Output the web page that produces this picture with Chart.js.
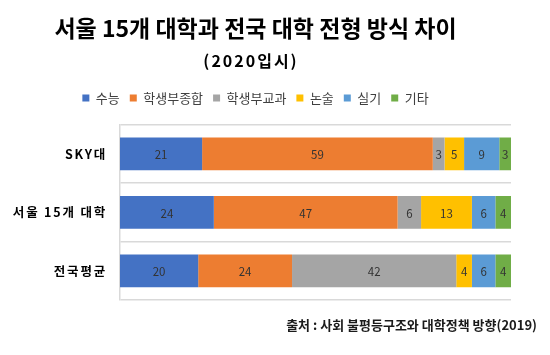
<!DOCTYPE html>
<html><head><meta charset="utf-8">
<script src="https://cdn.jsdelivr.net/npm/chart.js@4/dist/chart.umd.min.js"></script>
<style>html,body{margin:0;padding:0;background:#fff;} #wrap{width:550px;height:355px;position:relative;}</style>
</head><body><div id="wrap"><canvas id="c"></canvas></div>
<script>
const categories = ['SKY대', '서울 15개 대학', '전국평균'];
const seriesNames = ['수능', '학생부종합', '학생부교과', '논술', '실기', '기타'];
const suneung = [21, 24, 20];
const hakjong = [59, 47, 24];
const gyogwa = [3, 6, 42];
const nonsul = [5, 13, 4];
const silgi = [9, 6, 6];
const gita = [3, 4, 4];
const titleText = '서울 15개 대학과 전국 대학 전형 방식 차이';
const subtitleText = '(2020입시)';
const sourceText = '출처 : 사회 불평등구조와 대학정책 방향(2019)';

const colors = ['#4472C4', '#ED7D31', '#A5A5A5', '#FFC000', '#5B9BD5', '#70AD47'];
const seriesValues = [suneung, hakjong, gyogwa, nonsul, silgi, gita];
const FONT = "'Noto Sans CJK KR', 'Noto Sans', sans-serif";

const labelPlugin = {
  id: 'segLabels',
  afterDatasetsDraw(chart) {
    const ctx = chart.ctx;
    ctx.save();
    ctx.font = '11.5px ' + FONT;
    ctx.fillStyle = '#333333';
    ctx.textAlign = 'center';
    ctx.textBaseline = 'middle';
    chart.data.datasets.forEach((ds, i) => {
      const meta = chart.getDatasetMeta(i);
      meta.data.forEach((el, j) => {
        const p = el.getProps(['x', 'base', 'y'], true);
        ctx.fillText(String(ds.data[j]), (p.x + p.base) / 2, p.y + 1);
      });
    });
    ctx.restore();
    ctx.letterSpacing = '1.8px';
  },
  afterDraw(chart) {
    const ctx = chart.ctx;
    ctx.letterSpacing = '0px';
    ctx.save();
    ctx.fillStyle = '#000';
    ctx.textBaseline = 'middle';
    ctx.textAlign = 'center';
    ctx.font = 'bold 16px ' + FONT;
    ctx.letterSpacing = '2px';
    ctx.fillText(subtitleText, 251, 61);
    ctx.letterSpacing = '0px';
    ctx.textAlign = 'right';
    ctx.font = 'bold 13px ' + FONT;
    ctx.fillStyle = '#1a1a1a';
    ctx.fillText(sourceText, 537, 325);
    ctx.restore();
  }
};

new Chart(document.getElementById('c'), {
  type: 'bar',
  data: {
    labels: categories,
    datasets: seriesNames.map((name, i) => ({
      label: name,
      data: seriesValues[i],
      backgroundColor: colors[i],
      borderWidth: 0,
      categoryPercentage: 1,
      barPercentage: 0.56
    }))
  },
  options: {
    indexAxis: 'y',
    responsive: true,
    maintainAspectRatio: false,
    animation: false,
    layout: { padding: { left: 0, right: 39, top: 0, bottom: 55 } },
    scales: {
      x: {
        position: 'top',
        stacked: true,
        min: 0,
        max: 100,
        ticks: { display: false },
        grid: { display: false, drawTicks: false },
        border: { display: false },
        afterFit: (s) => { s.height = 10; }
      },
      y: {
        stacked: true,
        ticks: { color: '#000', font: { family: FONT, size: 12.5, weight: 'bold' }, padding: 13, z: 1 },
        grid: { color: '#d9d9d9', lineWidth: 1.5, drawTicks: false, offset: true },
        border: { display: true, color: '#d9d9d9', width: 1.5 },
        afterFit: (s) => { s.width = 120; }
      }
    },
    plugins: {
      title: {
        display: true,
        text: titleText,
        color: '#000',
        font: { family: FONT, size: 23, weight: 'bold' },
        padding: { top: 14, bottom: 40 }
      },
      legend: {
        position: 'top',
        labels: {
          boxWidth: 7,
          boxHeight: 7,
          padding: 10,
          color: '#404040',
          font: { family: FONT, size: 13 }
        }
      },
      tooltip: { enabled: false }
    }
  },
  plugins: [labelPlugin]
});
</script>
</body></html>
